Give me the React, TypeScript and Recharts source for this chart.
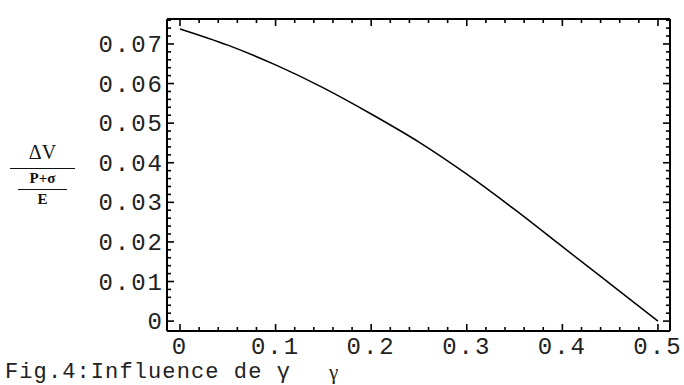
import { LineChart, Line, XAxis, YAxis, ReferenceLine } from 'recharts';

// Poisson ratio (nu) vs normalised volume change
const nuValues = [0, 0.05, 0.1, 0.15, 0.2, 0.25, 0.3, 0.35, 0.4, 0.45, 0.5];
const dvValues = [0.0738, 0.0697, 0.0647, 0.0589, 0.0523, 0.0452, 0.0371, 0.0282, 0.0188, 0.0094, 0.0];

const xMajor = [0, 0.1, 0.2, 0.3, 0.4, 0.5];
const yMajor = [0, 0.01, 0.02, 0.03, 0.04, 0.05, 0.06, 0.07];
const xTicks = Array.from({ length: 26 }, (_, i) => +(i * 0.02).toFixed(2));
const yTicks = Array.from({ length: 39 }, (_, i) => +(i * 0.002).toFixed(3));

const data = nuValues.map((x, i) => ({ x, dv: dvValues[i] }));

const MONO = '"Liberation Mono", "DejaVu Sans Mono", monospace';
const SERIF = '"Liberation Serif", "DejaVu Serif", serif';

// plot frame size (chart 684x385 minus margins and axis sizes)
const PLOT_W = 503;
const PLOT_H = 312;

const isMajor = (v: number, list: number[]) => list.some((m) => Math.abs(m - v) < 1e-9);

// inward ticks on bottom + mirrored on top frame edge
function XTick({ x, y, payload }: any) {
  const major = isMajor(payload.value, xMajor);
  const len = major ? 7 : 4;
  const v = payload.value;
  return (
    <g>
      <line x1={x} x2={x} y1={y} y2={y - len} stroke="#000" strokeWidth={1.6} />
      <line x1={x} x2={x} y1={y - PLOT_H} y2={y - PLOT_H + len} stroke="#000" strokeWidth={1.6} />
      {major && (
        <text x={x} y={y + 23} textAnchor="middle" fontFamily={MONO} fontSize={24} letterSpacing={2} fill="#222">
          {v === 0 ? '0' : v.toFixed(1)}
        </text>
      )}
    </g>
  );
}

// inward ticks on left + mirrored on right frame edge
function YTick({ x, y, payload }: any) {
  const major = isMajor(payload.value, yMajor);
  const len = major ? 7 : 4;
  const v = payload.value;
  return (
    <g>
      <line x1={x} x2={x + len} y1={y} y2={y} stroke="#000" strokeWidth={1.6} />
      <line x1={x + PLOT_W} x2={x + PLOT_W - len} y1={y} y2={y} stroke="#000" strokeWidth={1.6} />
      {major && (
        <text x={x - 3} y={y + 8} textAnchor="end" fontFamily={MONO} fontSize={24} letterSpacing={2} fill="#222">
          {v === 0 ? '0' : v.toFixed(2)}
        </text>
      )}
    </g>
  );
}

export default function App() {
  const xDomain: [number, number] = [-0.0136, 0.5126];
  const yDomain: [number, number] = [-0.0025, 0.0763];
  return (
    <div style={{ position: 'absolute', left: 0, top: 0, width: 684, height: 385, background: '#fff', overflow: 'hidden' }}>
      <LineChart width={684} height={385} data={data} margin={{ top: 19, right: 14, bottom: 24, left: 87 }}>
        <XAxis dataKey="x" type="number" domain={xDomain} allowDataOverflow ticks={xTicks} interval={0}
          height={30} tickLine={false} tickSize={0} tickMargin={0}
          axisLine={{ stroke: '#000', strokeWidth: 2 }} tick={<XTick />} />
        <YAxis type="number" domain={yDomain} allowDataOverflow ticks={yTicks} interval={0}
          width={80} tickLine={false} tickSize={0} tickMargin={0}
          axisLine={{ stroke: '#000', strokeWidth: 2 }} tick={<YTick />} />
        <ReferenceLine y={yDomain[1]} stroke="#000" strokeWidth={2} />
        <ReferenceLine x={xDomain[1]} stroke="#000" strokeWidth={2} />
        <Line dataKey="dv" type="monotone" stroke="#000" strokeWidth={1.5} dot={false} isAnimationActive={false} />
      </LineChart>

      {/* y label: ΔV / ((P+σ)/E) */}
      <div style={{ position: 'absolute', left: 10, top: 141, width: 65, textAlign: 'center', fontFamily: SERIF, fontSize: 20, lineHeight: '22px', color: '#111' }}>ΔV</div>
      <div style={{ position: 'absolute', left: 10, top: 168, width: 65, height: 0, borderTop: '1.5px solid #111' }} />
      <div style={{ position: 'absolute', left: 17, top: 170, width: 51, textAlign: 'center', fontFamily: SERIF, fontSize: 15, fontWeight: 700, lineHeight: '16px', color: '#111' }}>P+σ</div>
      <div style={{ position: 'absolute', left: 18, top: 189, width: 49, height: 0, borderTop: '1.5px solid #111' }} />
      <div style={{ position: 'absolute', left: 18, top: 192, width: 49, textAlign: 'center', fontFamily: SERIF, fontSize: 15, fontWeight: 700, lineHeight: '15px', color: '#111' }}>E</div>

      {/* x label and caption */}
      <div style={{ position: 'absolute', left: 329, top: 362, fontFamily: SERIF, fontSize: 21, lineHeight: '20px', color: '#222' }}>γ</div>
      <div style={{ position: 'absolute', left: 5, top: 363, fontFamily: MONO, fontSize: 22, letterSpacing: 1.1, lineHeight: '20px', color: '#222', whiteSpace: 'pre' }}>Fig.4:Influence de γ</div>
    </div>
  );
}
